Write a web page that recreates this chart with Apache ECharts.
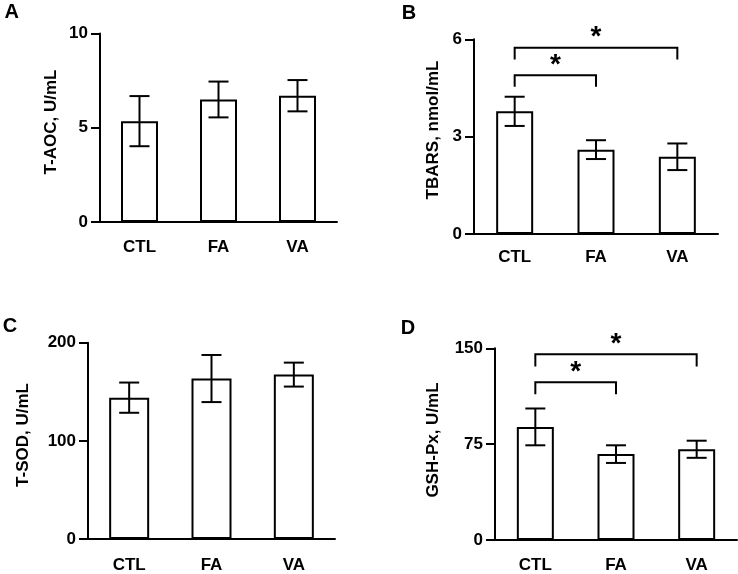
<!DOCTYPE html>
<html>
<head>
<meta charset="utf-8">
<script src="https://cdn.jsdelivr.net/npm/echarts@6/dist/echarts.min.js"></script>
<style>html,body{margin:0;padding:0;background:#fff}#c{width:738px;height:574px}</style>
</head>
<body>
<div id="c"></div>
<script>
// ---- data ----
const categories = ['CTL', 'FA', 'VA'];
const aocMean = [5.35, 6.5, 6.7];
const aocErr = [1.33, 0.95, 0.83];
const tbarsMean = [3.78, 2.6, 2.38];
const tbarsErr = [0.45, 0.29, 0.41];
const sodMean = [144, 163.5, 167.5];
const sodErr = [15.4, 24, 12.2];
const gshMean = [88.5, 67.2, 71];
const gshErr = [14.4, 6.9, 6.7];
// significance brackets: [fromIndex, toIndex, lineValue, legEndValue]
const tbarsBrackets = [[0, 1, 4.89, 4.54], [0, 2, 5.74, 5.38]];
const gshBrackets = [[0, 1, 123.5, 114.1], [0, 2, 145.3, 135.7]];
const yTitles = ['T-AOC, U/mL', 'TBARS, nmol/mL', 'T-SOD, U/mL', 'GSH-Px, U/mL'];
const yMax = [10, 6, 200, 150];
const yInterval = [5, 3, 100, 75];
const panelLetters = ['A', 'B', 'C', 'D'];

const FONT = '"Liberation Sans", Arial, sans-serif';
const chart = echarts.init(document.getElementById('c'), null, {renderer: 'canvas'});

const grids = [
  {left: 100, top: 33.5, width: 237, height: 188.5},
  {left: 474, top: 39.3, width: 244, height: 194.7},
  {left: 88, top: 342.7, width: 247, height: 197.3},
  {left: 495, top: 348.3, width: 242, height: 192.4}
];
const catMargins = [17, 15, 18, 17];
const barWidths = [37, 37, 40, 37];
const means = [aocMean, tbarsMean, sodMean, gshMean];
const errs = [aocErr, tbarsErr, sodErr, gshErr];
const brackets = [null, tbarsBrackets, null, gshBrackets];

const xAxes = [], yAxes = [], series = [];
for (let i = 0; i < 4; i++) {
  xAxes.push({
    type: 'category', gridIndex: i, data: categories,
    axisLine: {lineStyle: {color: '#000', width: 2}},
    axisTick: {show: false},
    axisLabel: {color: '#000', fontFamily: FONT, fontWeight: 'bold', fontSize: 17, margin: catMargins[i]}
  });
  yAxes.push({
    type: 'value', gridIndex: i, min: 0, max: yMax[i], interval: yInterval[i],
    axisLine: {show: true, lineStyle: {color: '#000', width: 2}},
    axisTick: {show: true, length: 9, lineStyle: {color: '#000', width: 2}},
    splitLine: {show: false},
    axisLabel: {color: '#000', fontFamily: FONT, fontWeight: 'bold', fontSize: 17, margin: 12}
  });
  series.push({
    type: 'bar', xAxisIndex: i, yAxisIndex: i, data: means[i], barWidth: barWidths[i],
    itemStyle: {color: '#fff', borderColor: '#000', borderWidth: 2},
    animation: false
  });
  series.push({
    type: 'custom', xAxisIndex: i, yAxisIndex: i,
    data: means[i].map((m, k) => [k, m, errs[i][k]]),
    renderItem: function (params, api) {
      const x = api.value(0), m = api.value(1), e = api.value(2);
      const pt = api.coord([x, m + e]);
      const pb = api.coord([x, m - e]);
      const hw = 10;
      const st = {stroke: '#000', lineWidth: 2};
      return {type: 'group', children: [
        {type: 'line', shape: {x1: pt[0], y1: pt[1], x2: pb[0], y2: pb[1]}, style: st},
        {type: 'line', shape: {x1: pt[0] - hw, y1: pt[1], x2: pt[0] + hw, y2: pt[1]}, style: st},
        {type: 'line', shape: {x1: pb[0] - hw, y1: pb[1], x2: pb[0] + hw, y2: pb[1]}, style: st}
      ]};
    },
    animation: false, z: 5
  });
  if (brackets[i]) {
    series.push({
      type: 'custom', xAxisIndex: i, yAxisIndex: i, clip: false,
      data: brackets[i],
      renderItem: function (params, api) {
        const a = api.value(0), b = api.value(1), ly = api.value(2), le = api.value(3);
        const p1 = api.coord([a, ly]), p2 = api.coord([b, ly]);
        const e1 = api.coord([a, le]), e2 = api.coord([b, le]);
        const st = {stroke: '#000', lineWidth: 2, fill: null};
        return {type: 'group', children: [
          {type: 'polyline', shape: {points: [[e1[0], e1[1]], [p1[0], p1[1]], [p2[0], p2[1]], [e2[0], e2[1]]]}, style: st},
          {type: 'text', x: (p1[0] + p2[0]) / 2, y: p1[1] - 10,
           style: {text: '*', fill: '#000', font: 'bold 28px ' + FONT, align: 'center', verticalAlign: 'middle'}}
        ]};
      },
      animation: false, z: 6
    });
  }
}

const titlePos = [[51.7, 122], [433.3, 130], [23.3, 435], [433.3, 440]];
const letterPos = [[11.7, 12], [409, 13.5], [10, 326], [408, 328]];
const graphics = [];
for (let i = 0; i < 4; i++) {
  graphics.push({
    type: 'text', x: titlePos[i][0], y: titlePos[i][1], rotation: Math.PI / 2,
    style: {text: yTitles[i], fill: '#000', font: 'bold 17px ' + FONT, align: 'center', verticalAlign: 'middle'}
  });
  graphics.push({
    type: 'text', x: letterPos[i][0], y: letterPos[i][1],
    style: {text: panelLetters[i], fill: '#000', font: 'bold 20px ' + FONT, align: 'center', verticalAlign: 'middle'}
  });
}

chart.setOption({
  animation: false,
  backgroundColor: '#fff',
  grid: grids,
  xAxis: xAxes,
  yAxis: yAxes,
  series: series,
  graphic: graphics
});
</script>
</body>
</html>
